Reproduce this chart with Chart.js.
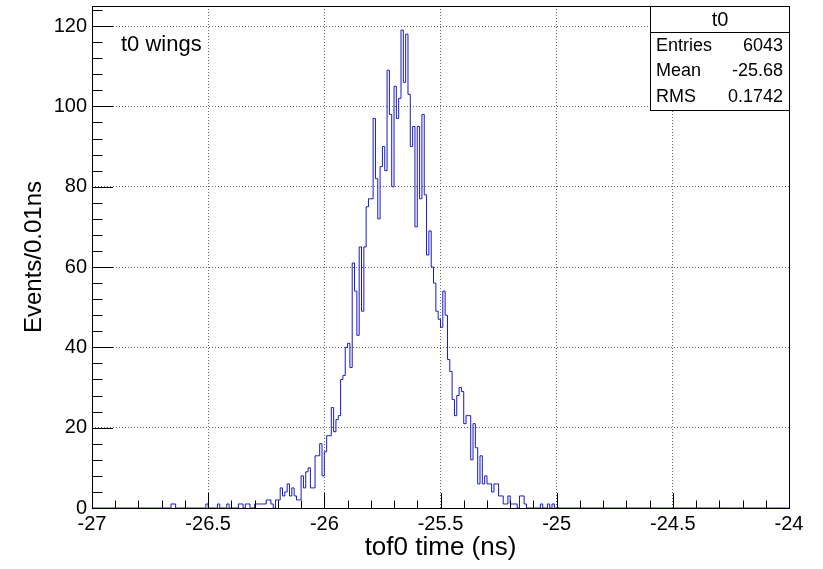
<!DOCTYPE html>
<html>
<head>
<meta charset="utf-8">
<script src="https://cdn.jsdelivr.net/npm/chart.js@4.4.0/dist/chart.umd.min.js"></script>
<style>
  html, body { margin: 0; padding: 0; background: #fff; }
  #wrap { width: 823px; height: 569px; position: relative; }
</style>
</head>
<body>
<div id="wrap"><canvas id="myChart"></canvas></div>
<script>
// histogram t0: 300 bins of 0.01 ns between -27 and -24
const xMin = -27;
const xMax = -24;
const binWidth = 0.01;
const firstBin = 34; // index of the first bin listed in counts, all others are empty
const counts = [
  1, 1, 0, 0, 0, 0, 0, 0, 0, 0,
  0, 0, 0, 0, 0, 1, 0, 0, 0, 0,
  1, 0, 0, 0, 1, 0, 0, 0, 0, 1,
  1, 0, 1, 1, 0, 0, 1, 1, 1, 1,
  1, 2, 2, 1, 0, 2, 2, 5, 3, 4,
  6, 3, 5, 3, 2, 2, 8, 5, 9, 10,
  5, 5, 13, 13, 16, 8, 14, 18, 18, 25,
  19, 22, 23, 32, 33, 40, 41, 35, 61, 54,
  43, 65, 49, 65, 75, 77, 77, 97, 82, 72,
  85, 90, 84, 109, 98, 80, 105, 97, 102, 119,
  106, 118, 103, 90, 95, 70, 95, 77, 98, 78,
  63, 69, 60, 56, 49, 47, 45, 54, 48, 37,
  34, 27, 23, 28, 30, 29, 21, 23, 23, 12,
  21, 15, 6, 13, 6, 8, 6, 6, 4, 6,
  6, 3, 3, 1, 1, 3, 1, 1, 1, 0,
  3, 3, 1, 0, 0, 0, 0, 0, 0, 1,
  0, 0, 1, 0, 1
];
const yMax = 125;
const statNames = ["Entries", "Mean", "RMS"];
const statValues = ["6043", "-25.68", "0.1742"];
const histName = "t0";
const histTitle = "t0 wings";

const FONT = "'Liberation Sans', Arial, Helvetica, sans-serif";

let points = [];
let nBins = Math.round((xMax - xMin) / binWidth);
for (let i = 0; i < nBins; i++) {
  let j = i - firstBin;
  let v = j >= 0 && j < counts.length ? counts[j] : 0;
  points.push({ x: xMin + i * binWidth, y: v });
}
points.push({ x: xMax, y: 0 });

// frame, inward ticks, stats box and title, drawn the ROOT way
const rootDecor = {
  id: "rootDecor",
  afterDatasetsDraw(chart) {
    const { ctx, chartArea: a, scales } = chart;
    const x = scales.x, y = scales.y;
    ctx.save();
    ctx.strokeStyle = "#000";
    ctx.lineWidth = 1;
    ctx.beginPath();
    for (let k = 0; k <= 30; k++) {
      let px = Math.round(x.getPixelForValue(xMin + k * 0.1)) + 0.5;
      let len = k % 5 === 0 ? 15 : 7.5;
      ctx.moveTo(px, a.bottom);
      ctx.lineTo(px, a.bottom - len);
    }
    for (let v = 0; v <= yMax; v += 4) {
      let py = Math.round(y.getPixelForValue(v)) + 0.5;
      let len = v % 20 === 0 ? 21 : 10.5;
      ctx.moveTo(a.left, py);
      ctx.lineTo(a.left + len, py);
    }
    ctx.stroke();
    ctx.strokeRect(Math.round(a.left) + 0.5, Math.round(a.top) + 0.5,
      Math.round(a.right - a.left), Math.round(a.bottom - a.top));

    // title text
    ctx.fillStyle = "#000";
    ctx.font = "22px " + FONT;
    ctx.textBaseline = "middle";
    ctx.textAlign = "left";
    ctx.fillText(histTitle, 121, 45);

    // stats box
    let bx = 650.5, by = 6.5, bw = 139, bh = 104;
    ctx.fillStyle = "#fff";
    ctx.fillRect(bx, by, bw, bh);
    ctx.strokeRect(bx, by, bw, bh);
    ctx.beginPath();
    ctx.moveTo(bx, 32.5);
    ctx.lineTo(bx + bw, 32.5);
    ctx.stroke();
    ctx.fillStyle = "#000";
    ctx.font = "20px " + FONT;
    ctx.textAlign = "center";
    ctx.fillText(histName, bx + bw / 2, 20);
    ctx.font = "18px " + FONT;
    for (let r = 0; r < statNames.length; r++) {
      let ty = 46 + r * 25.5;
      ctx.textAlign = "left";
      ctx.fillText(statNames[r], 656, ty);
      ctx.textAlign = "right";
      ctx.fillText(statValues[r], 783, ty);
    }
    ctx.restore();
  }
};

let ctx = document.getElementById("myChart").getContext("2d");
let myChart = new Chart(ctx, {
  type: "line",
  data: {
    datasets: [
      {
        data: points,
        stepped: "before",
        borderColor: "#1a1ac0",
        borderWidth: 1,
        pointRadius: 0,
        fill: false,
        tension: 0,
      },
    ],
  },
  options: {
    responsive: true,
    maintainAspectRatio: false,
    animation: false,
    events: [],
    layout: { padding: { left: 0, right: 34, top: 6, bottom: 0 } },
    plugins: { legend: { display: false }, tooltip: { enabled: false } },
    scales: {
      x: {
        type: "linear",
        min: xMin,
        max: xMax,
        afterFit: (s) => { s.height = 61; s.paddingLeft = 0; s.paddingRight = 0; },
        ticks: {
          stepSize: 0.5,
          autoSkip: false,
          maxRotation: 0,
          includeBounds: false,
          padding: 4,
          color: "#000",
          font: { family: FONT, size: 20 },
          callback: (v) => String(Math.round(v * 10) / 10),
        },
        grid: { color: "#666", drawTicks: false, lineWidth: 1 },
        border: { display: false, dash: [1, 2] },
        title: {
          display: true,
          text: "tof0 time (ns)",
          color: "#000",
          font: { family: FONT, size: 26 },
          padding: { top: 0, bottom: 6 },
        },
      },
      y: {
        min: 0,
        max: yMax,
        afterFit: (s) => { s.width = 92; s.paddingTop = 0; s.paddingBottom = 0; },
        ticks: {
          stepSize: 20,
          includeBounds: false,
          padding: 5,
          color: "#000",
          font: { family: FONT, size: 20 },
        },
        grid: { color: "#666", drawTicks: false, lineWidth: 1 },
        border: { display: false, dash: [1, 2] },
        title: {
          display: true,
          text: "Events/0.01ns",
          color: "#000",
          font: { family: FONT, size: 24 },
          padding: { top: 20, bottom: 0 },
        },
      },
    },
  },
  plugins: [rootDecor],
});
</script>
</body>
</html>
